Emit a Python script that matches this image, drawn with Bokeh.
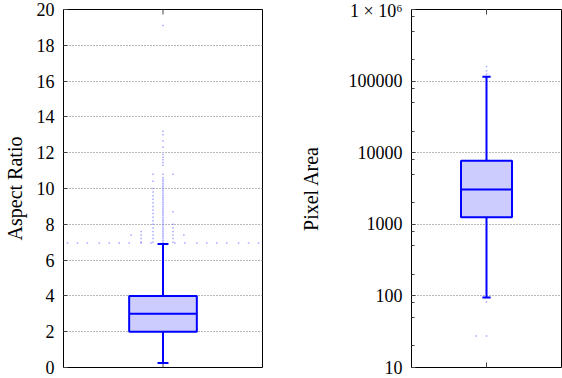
import math
from bokeh.plotting import figure
from bokeh.layouts import row
from bokeh.models import FixedTicker, Range1d
from bokeh.embed import file_html
from bokeh.resources import INLINE

# ---------------- data ----------------
# Aspect ratio box statistics
ar_stats = dict(q1=2.0, med=3.0, q3=4.0, lo=0.25, hi=6.9)
# outliers: (column offset from box centre) -> values
ar_out_c = [7.0, 7.1, 7.2, 7.3, 7.4, 7.5, 7.6, 7.7, 7.8, 7.9, 8.0, 8.1, 8.2, 8.3, 8.4,
            8.5, 8.6, 8.7, 8.8, 8.9, 9.0, 9.1, 9.2, 9.3, 9.4, 9.5, 9.6, 9.7, 9.8, 9.9,
            10.0, 10.1, 10.2, 10.3, 10.4, 10.5, 10.6, 10.8, 11.3, 11.45, 11.6, 11.75,
            11.9, 12.3, 12.65, 13.0, 13.2, 19.1]
ar_out_l1 = [7.0, 7.2, 7.4, 7.6, 7.8, 8.0, 8.2, 8.4, 8.6, 8.8, 9.0, 9.2, 9.4, 9.6,
             9.8, 10.0, 10.4, 10.8]
ar_out_r1 = [7.0, 7.2, 7.4, 7.6, 7.8, 8.0, 8.7, 10.8]
ar_out_l2 = [7.0, 7.2, 7.4, 7.6]
ar_out_l3 = [7.4]
ar_out_r2 = [7.4]
ar_row_offsets = [-0.48, -0.43, -0.38, -0.32, -0.27, -0.22, -0.17, -0.11, -0.06,
                  0.06, 0.11, 0.17, 0.22, 0.27, 0.32, 0.38, 0.43, 0.48]
ar_row_value = 6.95

# Pixel area box statistics
pa_stats = dict(q1=1250, med=3050, q3=7700, lo=95, hi=115000)
pa_out_c = [27.5, 82, 125000, 140000, 160000]
pa_out_l1 = [27.5]

ar_ticks = [0, 2, 4, 6, 8, 10, 12, 14, 16, 18, 20]
pa_ticks = [10, 100, 1000, 10000, 100000, 1000000]
pa_tick_labels = ["10", "100", "1000", "10000", "100000", "1 × 10⁶"]
pa_minor = [20, 50, 80, 200, 500, 800, 2000, 5000, 8000, 20000, 50000, 80000,
            200000, 500000, 800000]

# ---------------- style ----------------
FONT = "Liberation Serif"
BLUE = "#0000ff"
FILL = "#ccccff"
DOT = "#6a6aff"
BOXW = 0.34
CAPW = 0.055
CX = 0.5


def style(p, yticks, minor=None, overrides=None):
    p.outline_line_color = "black"
    p.outline_line_width = 1
    p.xaxis.visible = False
    p.xgrid.visible = False
    p.ygrid.grid_line_color = "#707070"
    p.ygrid.grid_line_dash = "1 2"
    p.ygrid.grid_line_width = 1
    ya = p.yaxis[0]
    ya.ticker = FixedTicker(ticks=yticks, minor_ticks=minor or [])
    ya.axis_line_color = None
    ya.major_tick_in = 4
    ya.major_tick_out = 0
    ya.minor_tick_in = 3
    ya.minor_tick_out = 0
    ya.major_tick_line_color = "#444444"
    ya.minor_tick_line_color = "#444444"
    ya.major_label_text_font = FONT
    ya.major_label_text_font_size = "18px"
    ya.major_label_text_color = "black"
    ya.major_label_standoff = 9
    ya.axis_label_text_font = FONT
    ya.axis_label_text_font_size = "20px"
    ya.axis_label_text_font_style = "normal"
    ya.axis_label_text_color = "black"
    if overrides:
        ya.major_label_overrides = overrides
    # centre tick marks on bottom and top edges of the frame
    p.scatter(x=[CX, CX], y=[p.y_range.start, p.y_range.end], marker="dash",
              angle=math.pi / 2, size=10, line_color="#444444", line_width=1)


def draw_box(p, s, out_cols):
    p.vbar(x=[CX], width=BOXW, bottom=[s["q1"]], top=[s["q3"]],
           fill_color=FILL, line_color=BLUE, line_width=2)
    p.segment(x0=[CX - BOXW / 2], x1=[CX + BOXW / 2], y0=[s["med"]], y1=[s["med"]],
              line_color=BLUE, line_width=2)
    p.segment(x0=[CX, CX], x1=[CX, CX], y0=[s["q3"], s["q1"]], y1=[s["hi"], s["lo"]],
              line_color=BLUE, line_width=2)
    p.segment(x0=[CX - CAPW / 2] * 2, x1=[CX + CAPW / 2] * 2,
              y0=[s["hi"], s["lo"]], y1=[s["hi"], s["lo"]],
              line_color=BLUE, line_width=2)
    xs, ys = [], []
    for off, vals in out_cols:
        for v in vals:
            xs.append(CX + off)
            ys.append(v)
    p.scatter(x=xs, y=ys, marker="square", size=1.5, fill_color=DOT,
              line_color=None, fill_alpha=0.6)


H = 378

p1 = figure(width=296, height=H, x_range=Range1d(0, 1), y_range=Range1d(0, 20),
            output_backend="svg", toolbar_location=None,
            min_border_left=62, min_border_right=34, min_border_top=9,
            min_border_bottom=11, y_axis_label="Aspect Ratio")
style(p1, ar_ticks)
p1.yaxis[0].axis_label_standoff = 8
draw_box(p1, ar_stats, [(0.0, ar_out_c), (-0.05, ar_out_l1), (0.05, ar_out_r1),
                        (-0.11, ar_out_l2), (-0.16, ar_out_l3), (0.105, ar_out_r2)])
p1.scatter(x=[CX + o for o in ar_row_offsets], y=[ar_row_value] * len(ar_row_offsets),
           marker="square", size=1.5, fill_color=DOT, line_color=None, fill_alpha=0.6)

p2 = figure(width=266, height=H, x_range=Range1d(0, 1), y_range=Range1d(10, 1e6),
            y_axis_type="log", output_backend="svg", toolbar_location=None,
            min_border_left=110, min_border_right=1, min_border_top=9,
            min_border_bottom=11, y_axis_label="Pixel Area")
style(p2, pa_ticks, pa_minor,
      {float(t): lab for t, lab in zip(pa_ticks, pa_tick_labels)})
p2.yaxis[0].axis_label_standoff = 24
draw_box(p2, pa_stats, [(0.0, pa_out_c), (-0.068, pa_out_l1)])

layout = row(p1, p2, spacing=0)

open("out.html", "w").write(file_html(layout, INLINE))
